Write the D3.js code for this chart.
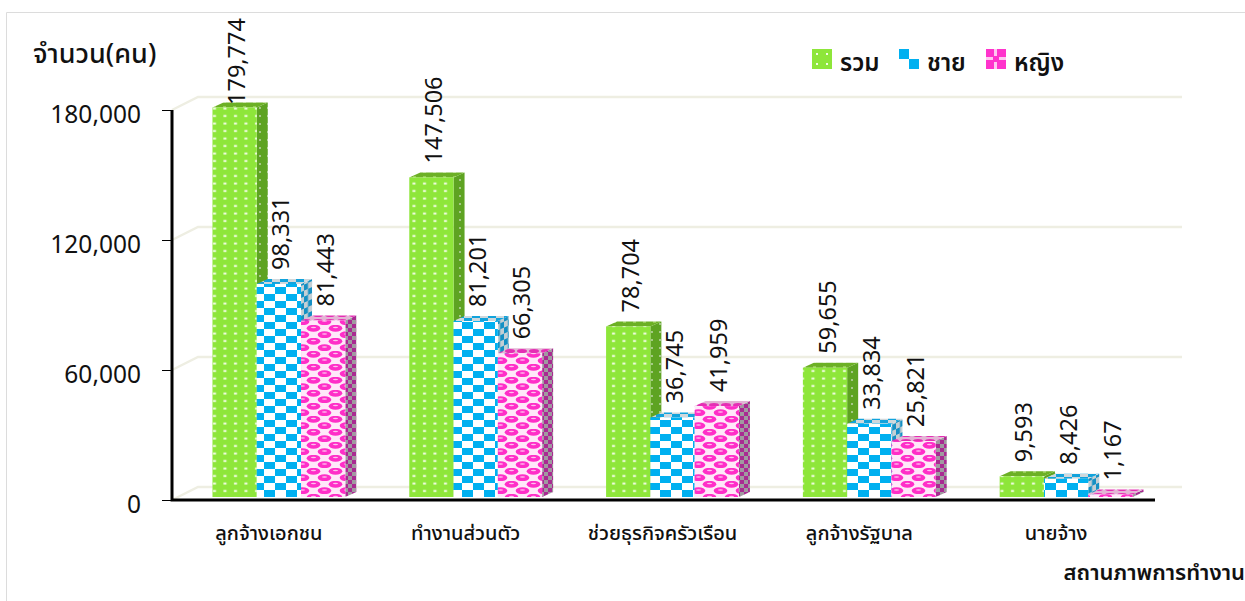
<!DOCTYPE html>
<html>
<head>
<meta charset="UTF-8">
<script src="https://d3js.org/d3.v7.min.js"></script>
<style>
  html, body { margin: 0; padding: 0; background: #fff; overflow: hidden; }
  svg { display: block; }
  text { font-family: "Noto Sans Thai", "Noto Sans", "DejaVu Sans", sans-serif; fill: #111; }
</style>
</head>
<body>
<svg id="canvas"></svg>
<script>
const categories = ["ลูกจ้างเอกชน", "ทำงานส่วนตัว", "ช่วยธุรกิจครัวเรือน", "ลูกจ้างรัฐบาล", "นายจ้าง"];
const seriesNames = ["รวม", "ชาย", "หญิง"];
const total = [179774, 147506, 78704, 59655, 9593];
const male = [98331, 81201, 36745, 33834, 8426];
const female = [81443, 66305, 41959, 25821, 1167];
const yTicks = [0, 60000, 120000, 180000];
const yTitle = "จำนวน(คน)";
const xTitle = "สถานภาพการทำงาน";

const width = 1245, height = 601;
const depthX = 11, depthY = 5;      // bar extrusion
const wallX = 26, wallY = 13;       // back wall offset

const svg = d3.select("#canvas").attr("width", width).attr("height", height);
const defs = svg.append("defs");

function pattern(id, w, h, bg, draw, transform) {
  const p = defs.append("pattern").attr("id", id)
    .attr("patternUnits", "userSpaceOnUse").attr("width", w).attr("height", h);
  if (transform) p.attr("patternTransform", transform);
  p.append("rect").attr("width", w).attr("height", h).attr("fill", bg);
  draw(p);
}
function block(p, x, y, w, h, c) {
  p.append("rect").attr("x", x).attr("y", y).attr("width", w).attr("height", h).attr("fill", c);
}
function checks(w, h, c) {
  return p => { block(p, 0, 0, w, h, c); block(p, w, h, w, h, c); };
}
function rings(p) {
  [[5.5, 3.25], [16.5, 9.75], [-5.5, 9.75], [27.5, 3.25]].forEach(d => {
    p.append("ellipse").attr("cx", d[0]).attr("cy", d[1]).attr("rx", 6.8).attr("ry", 3.4).attr("fill", "#ff2ec8");
    p.append("ellipse").attr("cx", d[0]).attr("cy", d[1] - 0.8).attr("rx", 2.6).attr("ry", 0.8).attr("fill", "#ffc0ee");
  });
}

pattern("g-front", 10.5, 7.5, "#8ee63a", p => block(p, 3, 2.5, 3, 2, "#f2fce4"));
pattern("g-side", 8, 8, "#5ea322", p => block(p, 3, 3, 2, 2, "#a5c888"));
pattern("g-top", 10, 5, "#6cb025", p => block(p, 3, 1, 3, 2, "#95cc55"));
pattern("b-front", 22, 14, "#ffffff", checks(11, 7, "#00b0f0"));
pattern("b-side", 8, 12, "#c4cfd4", checks(4, 6, "#1590c4"), "skewY(-24)");
pattern("b-top", 16, 6, "#cfd8dc", checks(8, 3, "#12a3dc"));
pattern("p-front", 22, 13, "#ffe8f9", rings);
pattern("p-side", 8, 8, "#a92a92", checks(4, 4, "#a09aa0"));
pattern("p-top", 12, 6, "#e3b5d5", p => p.append("ellipse").attr("cx", 6).attr("cy", 3).attr("rx", 5).attr("ry", 2).attr("fill", "#e52eb4"));
// legend swatches are coarser than the bar fills
const series = [
  { name: seriesNames[0], values: total, key: "g" },
  { name: seriesNames[1], values: male, key: "b" },
  { name: seriesNames[2], values: female, key: "p" }
];

const legendX = d3.scalePoint().domain(seriesNames).range([812, 986]);
const at = name => `translate(${legendX(name)},49)`;
pattern("g-key", 10, 10, "#8ee63a", p => block(p, 4, 4, 2, 2, "#f2fce4"), at(seriesNames[0]));
pattern("b-key", 20, 20, "#ffffff", checks(10, 10, "#00b0f0"), at(seriesNames[1]));
pattern("p-key", 20, 20, "#ff33cc", p => {
  block(p, 8, 0, 3, 7, "#ffc8f0"); block(p, 0, 8, 7, 3, "#ffc8f0");
  block(p, 13, 8, 7, 3, "#ffc8f0"); block(p, 8, 13, 3, 7, "#ffc8f0");
}, at(seriesNames[2]));

const y = d3.scaleLinear().domain([0, 180000]).range([500, 110]);
const x0 = d3.scaleBand().domain(categories).range([180.5, 1164.5]).paddingInner(0.325).paddingOuter(0.1625);
const x1 = d3.scaleBand().domain(d3.range(series.length)).range([0, x0.bandwidth()]);

// frame
svg.append("path").attr("d", "M6.5,601V12.5H1245").attr("fill", "none").attr("stroke", "#dcdcdc");

// back wall grid
yTicks.forEach(t => {
  svg.append("path")
    .attr("d", `M172,${y(t)}L${172 + wallX},${y(t) - wallY}H1182`)
    .attr("fill", "none").attr("stroke", "#eeeee2").attr("stroke-width", 2.5);
});

// bars
categories.forEach((c, i) => {
  series.forEach((s, j) => {
    const g = svg.append("g");
    const l = x0(c) + x1(j), w = x1.bandwidth();
    const t = y(s.values[i]) - 3, b = y(0) - 3, r = l + w;
    g.append("path").attr("d", `M${r},${t}l${depthX},${-depthY}V${b - depthY}l${-depthX},${depthY}Z`)
      .attr("fill", `url(#${s.key}-side)`);
    g.append("path").attr("d", `M${l},${t}l${depthX},${-depthY}H${r + depthX}l${-depthX},${depthY}Z`)
      .attr("fill", `url(#${s.key}-top)`);
    g.append("rect").attr("x", l).attr("y", t).attr("width", w).attr("height", b - t)
      .attr("fill", `url(#${s.key}-front)`);
  });
});

// value labels, the tallest one gets pushed down to stay in the frame
categories.forEach((c, i) => {
  series.forEach((s, j) => {
    const cx = x0(c) + x1(j) + x1.bandwidth() / 2 + 10.5;
    const ly = Math.max(y(s.values[i]) - 17, 105);
    svg.append("text")
      .attr("transform", `translate(${cx},${ly}) rotate(-90)`)
      .attr("font-size", 23.5)
      .text(d3.format(",")(s.values[i]));
  });
});

// axes
const yAxis = d3.axisLeft(y).tickValues(yTicks).tickSize(10).tickPadding(21).tickFormat(d3.format(","));
svg.append("g").attr("transform", "translate(172,0)").call(yAxis)
  .call(g => g.select(".domain").remove())
  .call(g => g.selectAll("line").attr("stroke", "#000"))
  .call(g => g.selectAll("text").attr("font-size", 24.5).attr("font-family", null).attr("fill", "#111").attr("dy", "0.5em"));
svg.append("path").attr("d", "M172,110V500H1155").attr("fill", "none").attr("stroke", "#000").attr("stroke-width", 3);

const xAxis = d3.axisBottom(x0).tickSize(0).tickPadding(26);
svg.append("g").attr("transform", "translate(-10,500)").call(xAxis)
  .call(g => g.select(".domain").remove())
  .call(g => g.selectAll("text").attr("font-size", 20).attr("font-weight", 500).attr("font-family", null).attr("fill", "#111"));

// titles
svg.append("text").attr("x", 33).attr("y", 63).attr("font-size", 27).attr("font-weight", 500).text(yTitle);
svg.append("text").attr("x", 1245).attr("y", 580).attr("text-anchor", "end").attr("font-size", 22).attr("font-weight", 600).text(xTitle);

// legend
series.forEach(s => {
  const lx = legendX(s.name);
  svg.append("rect").attr("x", lx).attr("y", 49).attr("width", 20).attr("height", 20).attr("fill", `url(#${s.key}-key)`);
  svg.append("text").attr("x", lx + 28).attr("y", 71).attr("font-size", 24).attr("font-weight", 600).text(s.name);
});
</script>
</body>
</html>
